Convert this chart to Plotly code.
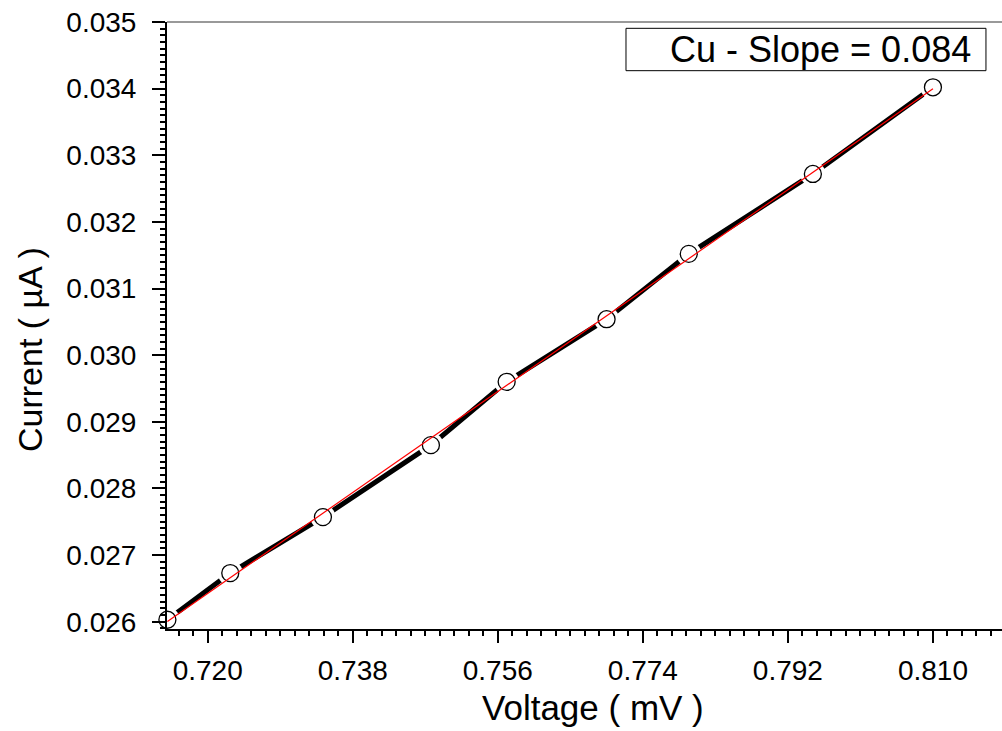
import numpy as np
import plotly.graph_objects as go

# Data
voltage = [0.7150, 0.7228, 0.7343, 0.7477, 0.7571, 0.7695, 0.7797, 0.7951, 0.8100]
current = [0.02603, 0.02673, 0.02757, 0.02865, 0.02960, 0.03054, 0.03152, 0.03272, 0.03402]
legend_text = "Cu - Slope = 0.084"

# Linear fit (red line)
slope, intercept = np.polyfit(voltage, current, 1)
fit_x = [voltage[0], voltage[-1]]
fit_y = [slope * v + intercept for v in fit_x]

FONT = "Liberation Sans, Arial, sans-serif"

fig = go.Figure()
# thick black connecting line
fig.add_trace(go.Scatter(
    x=voltage, y=current, mode="lines",
    line=dict(color="black", width=5),
    showlegend=False, cliponaxis=False,
))
# white gap around each symbol
fig.add_trace(go.Scatter(
    x=voltage, y=current, mode="markers",
    marker=dict(symbol="circle", size=25, color="white", line=dict(width=0)),
    showlegend=False, cliponaxis=False, hoverinfo="skip",
))
# open circle symbols
fig.add_trace(go.Scatter(
    x=voltage, y=current, mode="markers",
    marker=dict(symbol="circle-open", size=17, color="black",
                line=dict(color="black", width=1.3)),
    showlegend=False, cliponaxis=False,
))
# linear fit
fig.add_trace(go.Scatter(
    x=fit_x, y=fit_y, mode="lines",
    line=dict(color="red", width=1.2),
    showlegend=False, cliponaxis=False,
))

fig.update_layout(
    width=1002, height=731,
    margin=dict(l=167, r=0, t=22, b=102),
    plot_bgcolor="white", paper_bgcolor="white",
    font=dict(family=FONT, color="black"),
    xaxis=dict(
        range=[0.71495, 0.81857], tick0=0.72, dtick=0.018, tickformat=".3f",
        showgrid=False, zeroline=False, showline=True, linecolor="black", linewidth=2,
        ticks="outside", ticklen=12, tickwidth=2, tickcolor="black",
        tickfont=dict(size=28, family=FONT, color="black"),
        ticklabelstandoff=3,
        minor=dict(dtick=0.0018, ticks="outside", ticklen=5, tickwidth=2,
                   tickcolor="black", showgrid=False),
    ),
    yaxis=dict(
        range=[0.025891, 0.035], tick0=0.026, dtick=0.001, tickformat=".3f",
        showgrid=False, zeroline=False, showline=True, linecolor="black", linewidth=2,
        ticks="outside", ticklen=13, tickwidth=2, tickcolor="black",
        tickfont=dict(size=28, family=FONT, color="black"),
        ticklabelstandoff=10,
        minor=dict(dtick=0.0001, ticks="outside", ticklen=5, tickwidth=2,
                   tickcolor="black", showgrid=False),
    ),
    shapes=[
        dict(type="line", xref="paper", yref="paper", x0=0, x1=1, y0=1, y1=1,
             line=dict(color="#777777", width=1.5)),
        dict(type="rect", xref="paper", yref="paper",
             x0=0.5497, x1=0.9808, y0=0.9198, y1=0.9896,
             line=dict(color="black", width=1), fillcolor="white"),
    ],
    annotations=[
        dict(text=legend_text, xref="paper", yref="paper", x=0.9653, y=0.9547,
             xanchor="right", yanchor="middle", showarrow=False,
             font=dict(size=36, family=FONT, color="black")),
        dict(text="Voltage ( mV )", xref="paper", yref="paper",
             x=(593 - 167) / 835, y=-(686 - 629) / 607,
             xanchor="center", yanchor="top", showarrow=False,
             font=dict(size=35, family=FONT, color="black")),
        dict(text="Current ( µA )", xref="paper", yref="paper",
             x=-(167 - 30) / 835, y=(629 - 350) / 607, textangle=-90,
             xanchor="center", yanchor="middle", showarrow=False,
             font=dict(size=34, family=FONT, color="black")),
    ],
)

fig.write_html("out.html")
